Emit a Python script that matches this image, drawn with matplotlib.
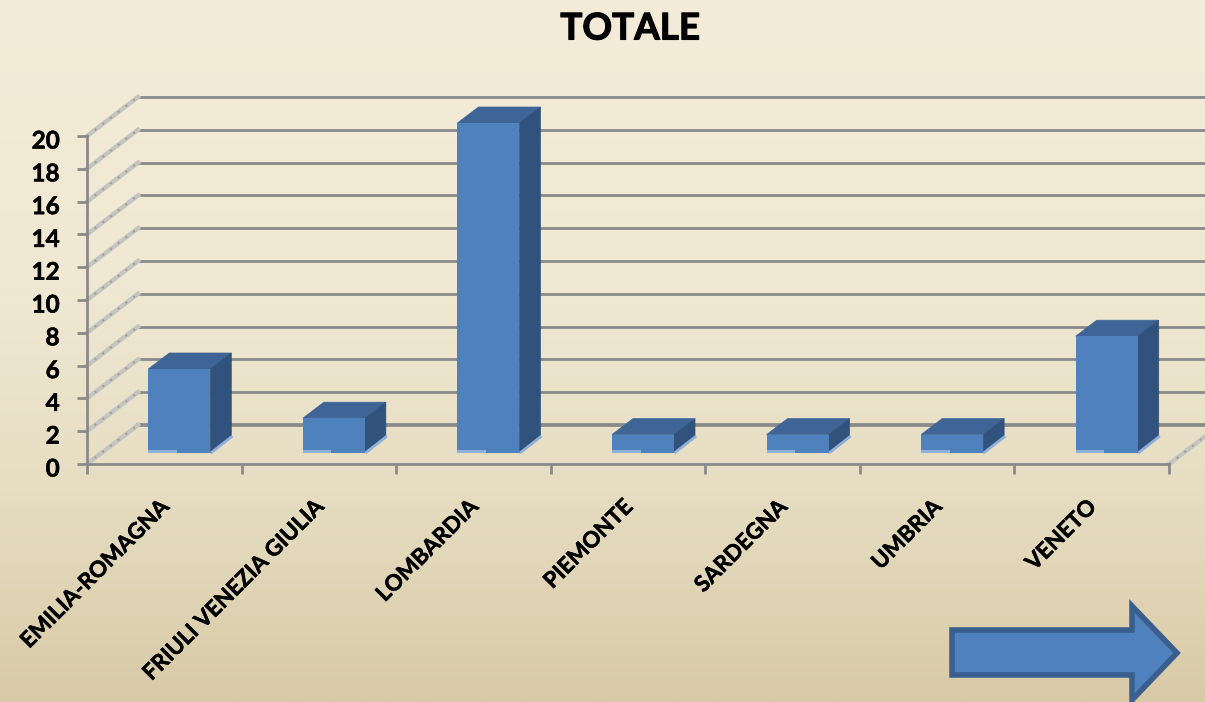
import numpy as np
import matplotlib
matplotlib.use("Agg")
import matplotlib.pyplot as plt
from matplotlib.patches import Polygon
from matplotlib.transforms import ScaledTranslation
import matplotlib.patheffects as pe
from matplotlib.colors import LinearSegmentedColormap

categories = ["EMILIA-ROMAGNA", "FRIULI VENEZIA GIULIA", "LOMBARDIA", "PIEMONTE",
              "SARDEGNA", "UMBRIA", "VENETO"]
values = [5, 2, 20, 1, 1, 1, 7]
y_ticks = list(range(0, 21, 2))
title = "TOTALE"

W, H = 1205, 702
plt.rcParams["font.family"] = ["Lato", "DejaVu Sans"]
fig = plt.figure(figsize=(W / 100, H / 100), dpi=100)

# background gradient
bg = fig.add_axes([0, 0, 1, 1], zorder=-1)
bg.axis("off")
cmap = LinearSegmentedColormap.from_list(
    "bg", [(0, "#F4ECD8"), (0.4, "#F0E8D2"), (0.7, "#E6DDC2"), (1, "#D8CAA6")])
bg.imshow(np.linspace(0, 1, 256)[:, None], aspect="auto", cmap=cmap, vmin=0, vmax=1)

# chart axes: front floor corner (87, 464), y=20 at 136, right end 1169
L, R, Y0, Y20 = 87, 1169, 464, 136
ax = fig.add_axes([L / W, 1 - Y0 / H, (R - L) / W, (Y0 - Y20) / H])
ax.patch.set_alpha(0)
ax.set_xlim(-0.5, 6.5)
ax.set_ylim(0, 20)
XU = (R - L) / 7
YU = (Y0 - Y20) / 20
x = np.arange(len(categories))

GRID = "#8A8A8A"
for s in ("top", "right"):
    ax.spines[s].set_visible(False)
for s in ("left", "bottom"):
    ax.spines[s].set_color(GRID)
    ax.spines[s].set_linewidth(2.0)

# back wall and side wall
wall_dx, wall_dy = 51 / XU, 39 / YU
DIAG, DIAG_MARK = "#C4C4C0", "#9A9A98"
for v in y_ticks:
    ax.plot([-0.5 + wall_dx, 6.5 + wall_dx + 1], [v + wall_dy] * 2, color=GRID,
            lw=2.7 if v == 0 else 2.0, clip_on=False, zorder=1)
    ax.plot([-0.5, -0.5 + wall_dx], [v, v + wall_dy], color=DIAG, lw=3.2,
            clip_on=False, zorder=1.1)
    ax.plot([-0.5, -0.5 + wall_dx], [v, v + wall_dy], color=DIAG_MARK, lw=1.4,
            ls=(0, (1, 4)), clip_on=False, zorder=1.2)
ax.plot([6.5, 6.5 + wall_dx], [0, wall_dy], color=DIAG, lw=3.2, clip_on=False, zorder=1.1)
ax.plot([6.5, 6.5 + wall_dx], [0, wall_dy], color=DIAG_MARK, lw=1.4, ls=(0, (1, 4)),
        clip_on=False, zorder=1.2)

# 3D bars: a small plinth below each bar, then the value-height column on it
FRONT, TOP, SIDE, LIGHT = "#4F81BD", "#3E6595", "#31527C", "#8FB0D8"
floor_dy = 11 / YU
plinth = 2 / YU
bar_dx, bar_dy = 15 / XU, floor_dy + plinth
depth_dx, depth_dy = 21 / XU, 16 / YU
bw = 62 / XU
cx = x + bar_dx
for c, v in zip(cx, values):
    l, r = c - bw / 2, c + bw / 2
    t = v + bar_dy
    ax.add_patch(Polygon([(l, t), (r, t), (r + depth_dx, t + depth_dy), (l + depth_dx, t + depth_dy)],
                         fc=TOP, ec=TOP, lw=0.5, zorder=3, clip_on=False))
    ax.add_patch(Polygon([(r, floor_dy), (r + depth_dx, floor_dy + depth_dy),
                          (r + depth_dx, t + depth_dy), (r, t)],
                         fc=SIDE, ec=SIDE, lw=0.5, zorder=3, clip_on=False))
    ax.plot([r + 0.01, r + depth_dx], [floor_dy + 0.05, floor_dy + depth_dy], color=LIGHT, lw=2,
            zorder=3.2, clip_on=False)
ax.bar(cx, values, width=bw, bottom=bar_dy, color=FRONT, zorder=4, clip_on=False)
ax.bar(cx, [plinth] * len(cx), width=bw, bottom=floor_dy, color=FRONT, zorder=4, clip_on=False)
ax.bar(cx - bw / 2 + bw * 0.23, [0.2] * len(cx), width=bw * 0.46, bottom=floor_dy, color=LIGHT,
       zorder=4.1, clip_on=False)

# ticks and labels
halo = [pe.withStroke(linewidth=0.4, foreground="#000000")]
ax.set_yticks(y_ticks)
ax.set_yticklabels([str(v) for v in y_ticks], fontsize=17.5, fontweight="bold", color="black",
                   path_effects=halo)
ax.tick_params(axis="y", length=7.2, width=2.0, color=GRID, pad=12.5)
ax.set_xticks(np.arange(-0.5, 7, 1), minor=True)
ax.tick_params(axis="x", which="minor", length=7.2, width=2.0, color=GRID)
ax.set_xticks(x)
ax.set_xticklabels(categories, rotation=45, ha="right", va="top", rotation_mode="anchor",
                   fontsize=16, fontweight="bold", color="black", path_effects=halo)
ax.tick_params(axis="x", which="major", length=0, pad=23)
for lab in ax.get_yticklabels():
    lab.set_transform(lab.get_transform() + ScaledTranslation(0, -3 / 100, fig.dpi_scale_trans))
for lab in ax.get_xticklabels():
    lab.set_transform(lab.get_transform() + ScaledTranslation(-6 / 100, 0, fig.dpi_scale_trans))

fig.text(630 / W, 1 - 29 / H, title, ha="center", va="center", fontsize=26.5, fontweight="bold",
         color="black", path_effects=[pe.withStroke(linewidth=0.8, foreground="#000000")])

# decorative arrow
arrow_px = [(952, 630), (1132, 630), (1132, 606), (1177, 653), (1132, 700), (1132, 675), (952, 675)]
fig.add_artist(Polygon([(px / W, 1 - py / H) for px, py in arrow_px], closed=True,
                       transform=fig.transFigure, fc="#4F81BD", ec="#3A5F8F", lw=4,
                       joinstyle="miter", zorder=5))

fig.savefig("out.png", dpi=100)
